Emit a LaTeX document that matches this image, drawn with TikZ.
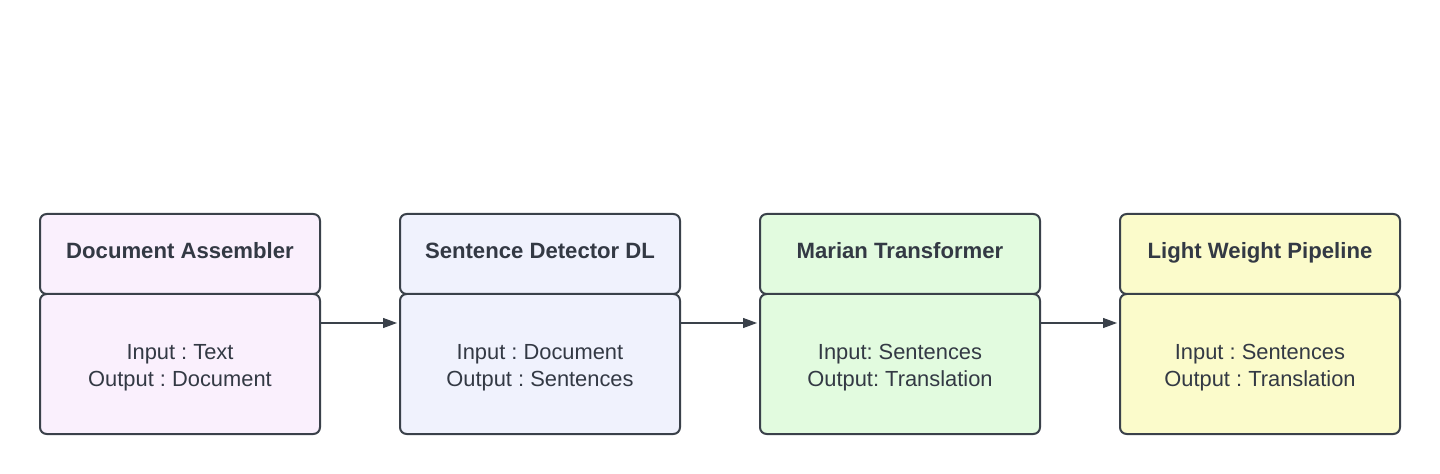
\documentclass[tikz,border=0pt]{standalone}
\usepackage{fontspec}
\setmainfont{Liberation Sans}
\usetikzlibrary{arrows.meta}
\frenchspacing
\definecolor{linegray}{RGB}{58,65,74}
\definecolor{textgray}{RGB}{51,57,68}
\definecolor{fillpink}{RGB}{250,240,253}
\definecolor{fillblue}{RGB}{240,242,253}
\definecolor{fillgreen}{RGB}{226,251,223}
\definecolor{fillyellow}{RGB}{251,251,203}
\tikzset{
  headbox/.style={draw=linegray, line width=1.5pt, rounded corners=5pt,
    minimum width=210pt, minimum height=60pt, text=textgray,
    text height=12pt, text depth=6pt,
    font=\fontsize{16.6}{18}\selectfont\bfseries},
  bodybox/.style={draw=linegray, line width=1.5pt, rounded corners=5pt,
    minimum width=210pt, minimum height=105pt, text=textgray, align=center,
    text height=36.5pt, text depth=3.4pt,
    font=\fontsize{16.4}{20.25}\selectfont},
  flow/.style={draw=linegray, line width=0.9pt,
    -{Triangle[length=10.5pt, width=7.5pt]}}
}
\begin{document}
\begin{tikzpicture}[x=0.75pt, y=-0.75pt]
\useasboundingbox (0,0) rectangle (1440,474);
\foreach \i/\col/\head/\body in {
  1/fillpink/{Document Assembler}/{Input : Text\\Output : Document},
  2/fillblue/{Sentence Detector DL}/{Input : Document\\Output : Sentences},
  3/fillgreen/{Marian Transformer}/{Input: Sentences\\Output: Translation},
  4/fillyellow/{Light Weight Pipeline}/{Input : Sentences\\Output : Translation}}
{
  \node[bodybox, fill=\col] (b\i) at (180 + 360 * \i - 360, 364) {\body};
  \node[headbox, fill=\col] (h\i) at (180 + 360 * \i - 360, 254) {\head};
}
\foreach \i/\j in {1/2, 2/3, 3/4}
{
  \draw[flow] ([yshift=30.75pt]b\i.east) -- ([yshift=30.75pt, xshift=-1.5pt]b\j.west);
}
\end{tikzpicture}
\end{document}
